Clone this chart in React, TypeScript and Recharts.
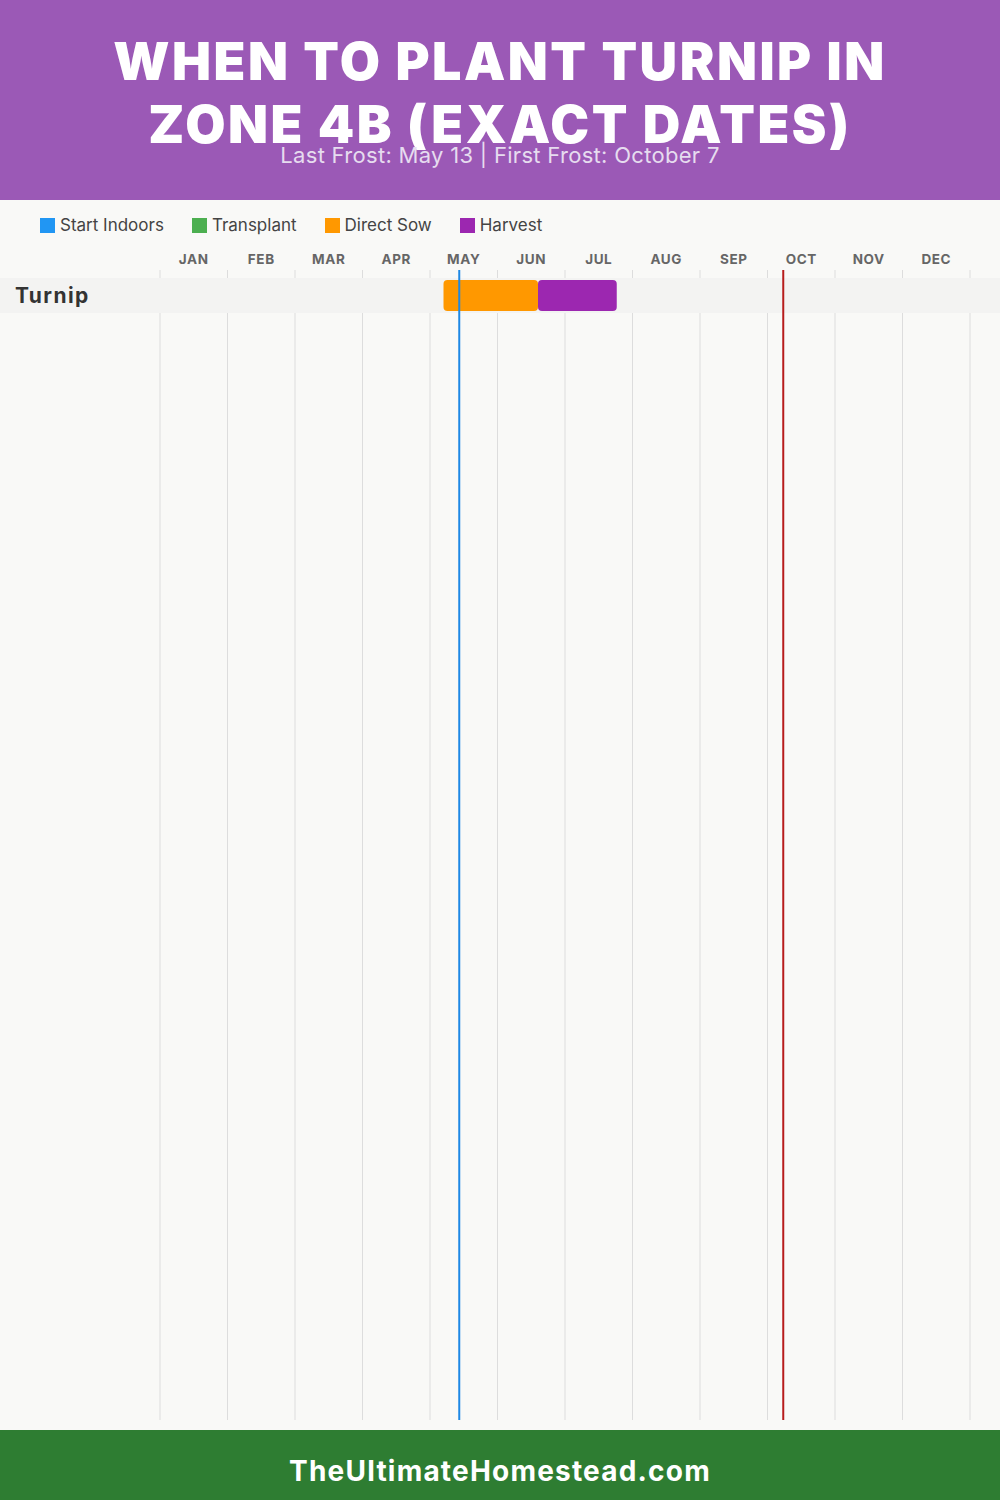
import { BarChart, Bar, XAxis, YAxis, CartesianGrid, ReferenceLine, ReferenceArea } from "recharts";

const months = ["JAN", "FEB", "MAR", "APR", "MAY", "JUN", "JUL", "AUG", "SEP", "OCT", "NOV", "DEC"];
const crops = ["Turnip"];
// dates as MM-DD
const directSowStart = ["05-06"];
const directSowEnd = ["06-18"];
const harvestStart = ["06-18"];
const harvestEnd = ["07-23"];
const lastFrost = "05-13";
const firstFrost = "10-07";

const legendNames = ["Start Indoors", "Transplant", "Direct Sow", "Harvest"];
const legendColors = ["#2196F3", "#4CAF50", "#FF9800", "#9C27B0"];

const FONT = "Inter, 'Open Sans', sans-serif";

// month index + day fraction (chart uses 30-day months)
function toMonths(d: string) {
  const [m, day] = d.split("-").map(Number);
  return m - 1 + day / 30;
}

const rows = crops.map((crop, i) => {
  const s = toMonths(directSowStart[i]);
  const e = toMonths(directSowEnd[i]);
  const hs = toMonths(harvestStart[i]);
  const he = toMonths(harvestEnd[i]);
  return { crop, offset: s, sow: e - s, gap: hs - e, harvest: he - hs };
});

const gridTicks = months.map((_, i) => i).concat([months.length]);
const monthCenters = months.map((_, i) => i + 0.5);

function MonthTick({ x, y, payload }: any) {
  return (
    <text
      x={x}
      y={y}
      dy={-6}
      textAnchor="middle"
      fill="#666"
      fontSize={13.5}
      fontWeight={700}
      fontFamily={FONT}
      letterSpacing={0.6}
    >
      {months[Math.floor(payload.value)]}
    </text>
  );
}

function CropTick({ y, payload }: any) {
  return (
    <text x={15} y={y} dy={7} textAnchor="start" fill="#333" fontSize={21} fontWeight={700} fontFamily={FONT} letterSpacing={1.4}>
      {payload.value}
    </text>
  );
}

function RowBand({ y, height }: any) {
  return <rect x={0} y={y} width={1000} height={height} fill="#f3f3f2" />;
}

export default function App() {
  return (
    <div style={{ position: "relative", width: 1000, height: 1500, background: "#f9f9f7", fontFamily: FONT, overflow: "hidden" }}>
      <style>{"body{margin:0}"}</style>
      <div style={{ position: "absolute", left: 0, top: 0, width: 1000, height: 200, background: "#9b59b6" }}>
        <div
          style={{
            position: "absolute",
            top: 30,
            width: 1000,
            textAlign: "center",
            color: "#fff",
            fontSize: 52,
            fontWeight: 900,
            lineHeight: "63px",
            letterSpacing: 2.5,
          }}
        >
          WHEN TO PLANT TURNIP IN
          <br />
          ZONE 4B (EXACT DATES)
        </div>
        <div
          style={{
            position: "absolute",
            top: 142,
            width: 1000,
            textAlign: "center",
            color: "#e6dcef",
            fontSize: 22,
            fontWeight: 400,
            lineHeight: "26px",
            letterSpacing: 0.3,
          }}
        >
          Last Frost: May 13 | First Frost: October 7
        </div>
      </div>

      <div style={{ position: "absolute", top: 215, left: 40, display: "flex", alignItems: "center", gap: 28 }}>
        {legendNames.map((name, i) => (
          <div key={name} style={{ display: "flex", alignItems: "center" }}>
            <span style={{ width: 15, height: 15, background: legendColors[i], marginRight: 5, display: "inline-block" }} />
            <span style={{ fontSize: 17, color: "#444", lineHeight: "20px" }}>{name}</span>
          </div>
        ))}
      </div>

      <div style={{ position: "absolute", top: 240, left: 0 }}>
        <BarChart
          width={1000}
          height={1190}
          data={rows}
          layout="vertical"
          margin={{ top: 0, right: 30, bottom: 10, left: 0 }}
          barSize={31}
        >
          <CartesianGrid horizontal={false} stroke="#dddddd" />
          <XAxis type="number" domain={[0, 12]} ticks={gridTicks} allowDataOverflow hide />
          <XAxis
            xAxisId="month"
            orientation="top"
            type="number"
            domain={[0, 12]}
            allowDataOverflow
            ticks={monthCenters}
            interval={0}
            axisLine={false}
            tickLine={false}
            tickSize={0}
            tickMargin={0}
            height={30}
            tick={<MonthTick />}
          />
          <YAxis
            type="category"
            dataKey="crop"
            width={160}
            axisLine={false}
            tickLine={false}
            padding={{ top: 8, bottom: 1107 }}
            tick={<CropTick />}
          />
          {crops.map((c) => (
            <ReferenceArea key={c} y1={c} y2={c} ifOverflow="visible" shape={<RowBand />} />
          ))}
          <Bar dataKey="offset" stackId="a" fill="transparent" isAnimationActive={false} />
          <Bar dataKey="sow" stackId="a" fill="#FF9800" radius={4} isAnimationActive={false} />
          <Bar dataKey="gap" stackId="a" fill="transparent" isAnimationActive={false} />
          <Bar dataKey="harvest" stackId="a" fill="#9C27B0" radius={4} isAnimationActive={false} />
          <ReferenceLine x={toMonths(lastFrost)} stroke="#1E88E5" strokeWidth={2} ifOverflow="visible" />
          <ReferenceLine x={toMonths(firstFrost)} stroke="#B71C1C" strokeWidth={2} ifOverflow="visible" />
        </BarChart>
      </div>

      <div
        style={{
          position: "absolute",
          top: 1430,
          left: 0,
          width: 1000,
          height: 70,
          background: "#2e7d32",
          color: "#fff",
          fontSize: 28,
          fontWeight: 700,
          textAlign: "center",
          lineHeight: "82px",
          letterSpacing: 1.2,
        }}
      >
        TheUltimateHomestead.com
      </div>
    </div>
  );
}
